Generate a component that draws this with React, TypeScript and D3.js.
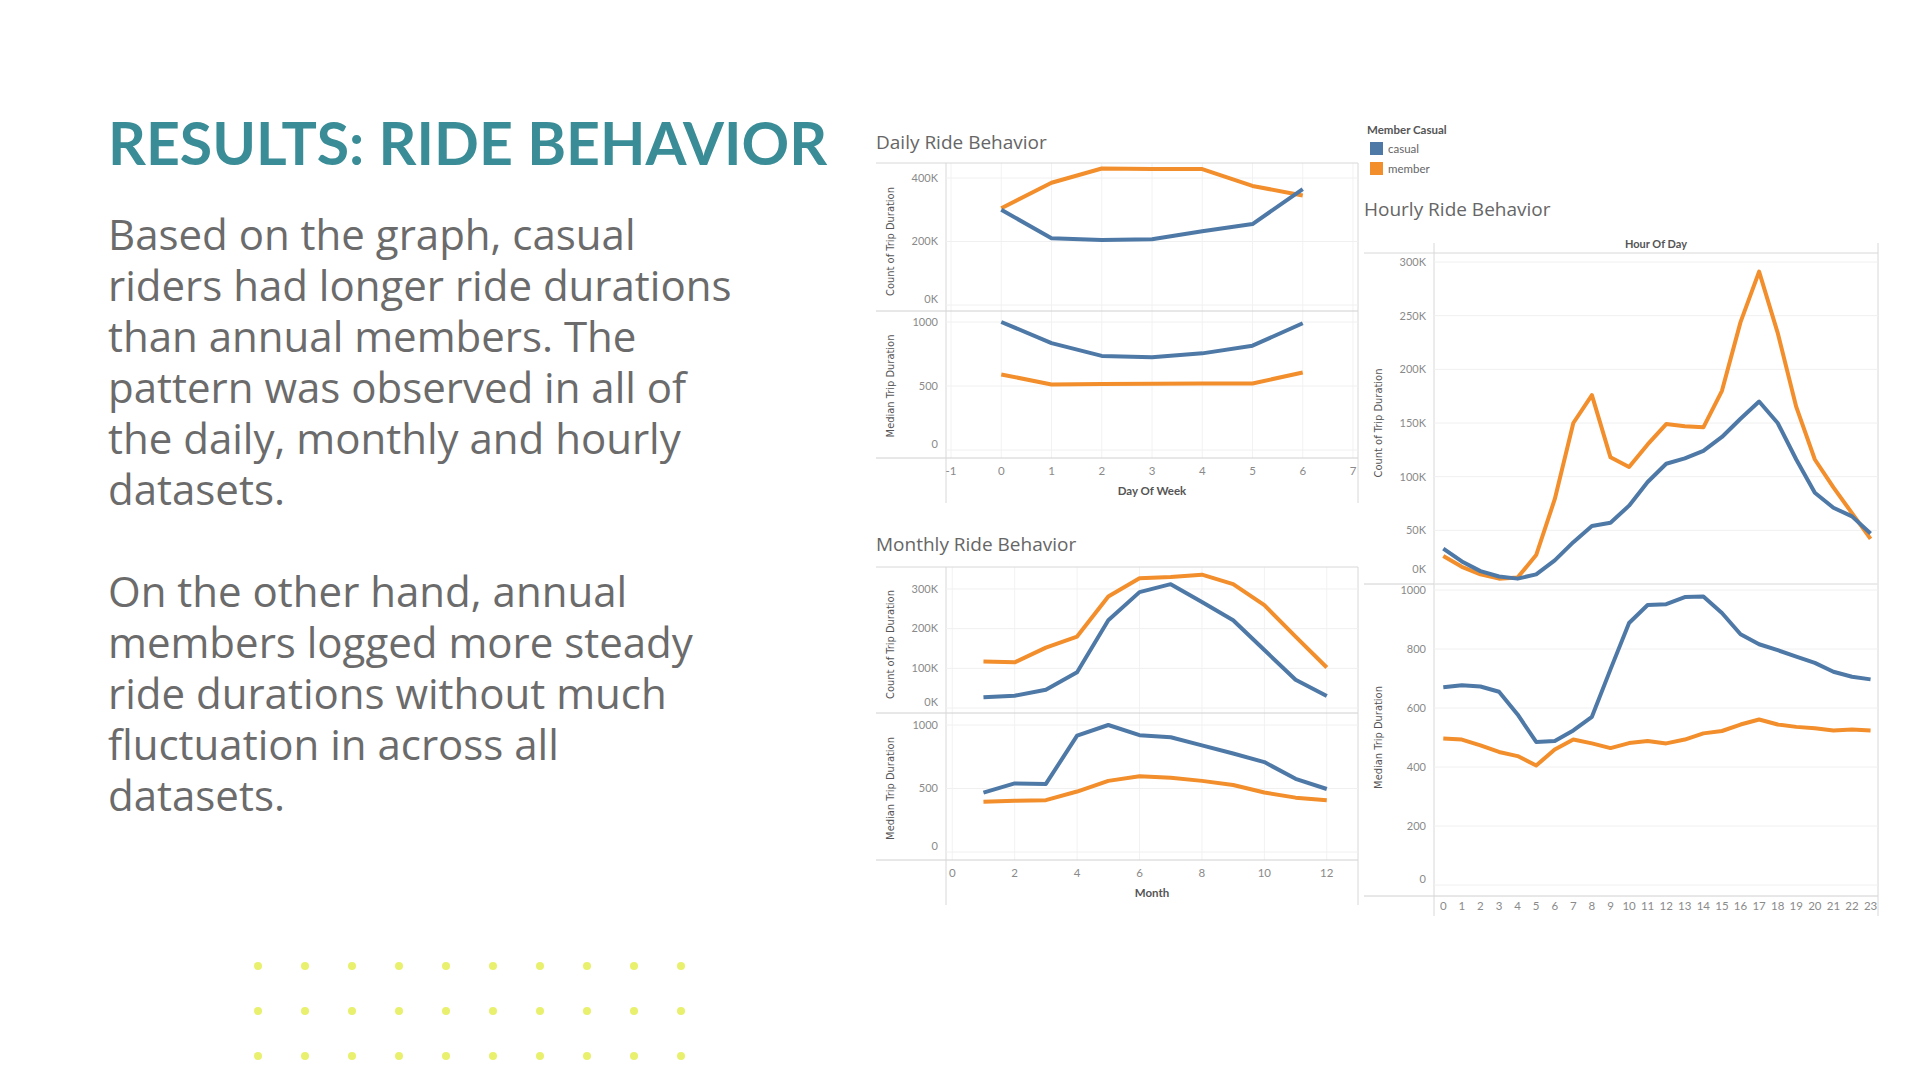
import React from 'react';
import * as d3 from 'd3';

const CASUAL = '#4e79a7';
const MEMBER = '#f28e2b';

// Daily (day of week 0-6)
const days = [0, 1, 2, 3, 4, 5, 6];
const dailyCountCasual = [300, 210, 205, 207, 232, 255, 365];
const dailyCountMember = [305, 385, 430, 428, 428, 375, 345];
const dailyMedianCasual = [1000, 835, 735, 725, 755, 815, 990];
const dailyMedianMember = [590, 512, 515, 518, 520, 520, 605];

// Monthly (1-12)
const months = [1, 2, 3, 4, 5, 6, 7, 8, 9, 10, 11, 12];
const monthlyCountCasual = [27, 31, 46, 90, 221, 292, 312, 267, 221, 146, 71, 30];
const monthlyCountMember = [117, 115, 152, 180, 281, 327, 330, 336, 312, 259, 180, 102];
const monthlyMedianCasual = [468, 540, 536, 916, 1000, 920, 904, 840, 776, 708, 576, 496];
const monthlyMedianMember = [396, 404, 408, 476, 560, 596, 584, 560, 528, 468, 428, 408];

// Hourly (0-23)
const hours = d3.range(24);
const hourlyCountCasual = [33, 21, 12, 7, 5, 9, 22, 39, 54, 57, 73, 95, 112, 117, 124, 137, 154, 170, 150, 116, 85, 71, 63, 47];
const hourlyCountMember = [26, 16, 9, 5, 6, 27, 79, 150, 176, 118, 109, 130, 149, 147, 146, 180, 244, 291, 234, 165, 116, 90, 66, 42];
const hourlyMedianCasual = [670, 677, 673, 655, 578, 485, 488, 524, 570, 731, 888, 949, 952, 976, 978, 922, 850, 816, 796, 774, 753, 723, 706, 697];
const hourlyMedianMember = [497, 493, 473, 451, 437, 405, 459, 493, 480, 464, 481, 488, 480, 493, 514, 522, 544, 561, 544, 536, 531, 524, 527, 524];

const para1 = ['Based on the graph, casual', 'riders had longer ride durations', 'than annual members. The', 'pattern was observed in all of', 'the daily, monthly and hourly', 'datasets.'];
const para2 = ['On the other hand, annual', 'members logged more steady', 'ride durations without much', 'fluctuation in across all', 'datasets.'];

const FONT = 'Lato, "Open Sans", sans-serif';
const TICK = '#8a8a8a';

type PaneDef = {
  y0: number; y1: number;
  domain: [number, number];
  ticks: number[];
  fmt: (v: number) => string;
  title: string;
  casual: number[];
  member: number[];
  zeroLift?: number;
};

function Pane({ p, x, xs, left, right, titleX }: { p: PaneDef; x: d3.ScaleLinear<number, number>; xs: number[]; left: number; right: number; titleX: number }) {
  const y = d3.scaleLinear().domain(p.domain).range([p.y1, p.y0]);
  const line = (vals: number[]) =>
    d3.line<number>().x((_, i) => x(xs[i])).y(d => y(d))(vals) || '';
  return (
    <g>
      {p.ticks.map(t => (
        <g key={t}>
          <line x1={left} x2={right} y1={y(t)} y2={y(t)} stroke="#f0f0f0" />
          <text x={left - 8} y={Math.min(y(t), p.y1 - (p.zeroLift ?? 6))} dy="0.35em" textAnchor="end" fontSize={11} fill={TICK} fontFamily={FONT}>{p.fmt(t)}</text>
        </g>
      ))}
      <text transform={`translate(${titleX},${(p.y0 + p.y1) / 2}) rotate(-90)`} textAnchor="middle" fontSize={11} fill="#555" fontFamily='"Liberation Sans Narrow", "DejaVu Sans Condensed", sans-serif'>{p.title}</text>
      <path d={line(p.member)} fill="none" stroke={MEMBER} strokeWidth={4} strokeLinejoin="round" />
      <path d={line(p.casual)} fill="none" stroke={CASUAL} strokeWidth={4} strokeLinejoin="round" />
    </g>
  );
}

function Chart({ title, titleY, top, mid, bottom, left, right, xDomain, xTicks, xs, xLabel, header, panes, gridX, tail = 45, tickGap = 17 }: any) {
  const x = d3.scaleLinear().domain(xDomain).range([left, right]);
  return (
    <g>
      <text x={left - 70} y={titleY} fontSize={19} fill="#666" fontFamily='"Open Sans", sans-serif'>{title}</text>
      {gridX && xTicks.map((t: number) => (
        <line key={t} x1={x(t)} x2={x(t)} y1={top} y2={bottom} stroke="#f2f2f2" />
      ))}
      <line x1={left - 70} x2={right} y1={top} y2={top} stroke="#d8d8d8" />
      <line x1={left - 70} x2={right} y1={mid} y2={mid} stroke="#d0d0d0" />
      <line x1={left - 70} x2={right} y1={bottom} y2={bottom} stroke="#d0d0d0" />
      <line x1={left} x2={left} y1={top - (header ? 10 : 0)} y2={bottom + tail} stroke="#d8d8d8" />
      <line x1={right} x2={right} y1={top - (header ? 10 : 0)} y2={bottom + tail} stroke="#d8d8d8" />
      {header && <text x={(left + right) / 2} y={top - 5} textAnchor="middle" fontSize={11} fontWeight="bold" fill="#555" fontFamily={FONT}>{header}</text>}
      {panes.map((p: PaneDef, i: number) => (
        <Pane key={i} p={p} x={x} xs={xs} left={left} right={right} titleX={left - 52} />
      ))}
      {xTicks.map((t: number) => (
        <text key={t} x={x(t)} y={bottom + tickGap} textAnchor="middle" fontSize={11.5} fill={TICK} fontFamily={FONT}>{t}</text>
      ))}
      {xLabel && <text x={(left + right) / 2} y={bottom + 37} textAnchor="middle" fontSize={11.5} fontWeight="bold" fill="#555" fontFamily={FONT}>{xLabel}</text>}
    </g>
  );
}

const fmtK = (v: number) => `${v}K`;
const fmtN = (v: number) => `${v}`;

export default function App() {
  const dotsX = d3.range(10);
  const dotsY = d3.range(3);
  const bodyFont = '"Open Sans", sans-serif';
  return (
    <svg width={1920} height={1080} style={{ display: 'block', position: 'absolute', left: 0, top: 0, background: '#fff' }}>
      <text x={108} y={165} fontSize={59} fontWeight="bold" fill="#3a8d96" fontFamily={FONT}>RESULTS: RIDE BEHAVIOR</text>
      {para1.map((l, i) => (
        <text key={l} x={108} y={250 + i * 51} fontSize={42} fill="#6b6b6b" fontFamily={bodyFont}>{l}</text>
      ))}
      {para2.map((l, i) => (
        <text key={l} x={108} y={607 + i * 51} fontSize={42} fill="#6b6b6b" fontFamily={bodyFont}>{l}</text>
      ))}
      {dotsY.map(r => dotsX.map(c => (
        <circle key={`${r}-${c}`} cx={258 + c * 47} cy={966 + r * 45} r={4} fill="#e8f06e" />
      )))}

      <Chart title="Daily Ride Behavior" titleY={149} top={163} mid={311} bottom={458}
        left={946} right={1358} xDomain={[-1.1, 7.1]} xTicks={[-1, 0, 1, 2, 3, 4, 5, 6, 7]} xs={days}
        xLabel="Day Of Week" gridX
        panes={[
          { y0: 178, y1: 305, domain: [0, 400], ticks: [0, 200, 400], fmt: fmtK, title: 'Count of Trip Duration', casual: dailyCountCasual, member: dailyCountMember },
          { y0: 322, y1: 450, domain: [0, 1000], ticks: [0, 500, 1000], fmt: fmtN, title: 'Median Trip Duration', casual: dailyMedianCasual, member: dailyMedianMember },
        ]} />
      <Chart title="Monthly Ride Behavior" titleY={551} top={567} mid={713} bottom={860}
        left={946} right={1358} xDomain={[-0.2, 13]} xTicks={[0, 2, 4, 6, 8, 10, 12]} xs={months}
        xLabel="Month" gridX
        panes={[
          { y0: 581, y1: 708, domain: [0, 320], ticks: [0, 100, 200, 300], fmt: fmtK, title: 'Count of Trip Duration', casual: monthlyCountCasual, member: monthlyCountMember },
          { y0: 725, y1: 852, domain: [0, 1000], ticks: [0, 500, 1000], fmt: fmtN, title: 'Median Trip Duration', casual: monthlyMedianCasual, member: monthlyMedianMember },
        ]} />

      <g fontFamily={FONT}>
        <text x={1367} y={134} fontSize={11.5} fontWeight="bold" fill="#555">Member Casual</text>
        <rect x={1370} y={142} width={13} height={13} fill={CASUAL} />
        <text x={1388} y={153} fontSize={11.5} fill="#666">casual</text>
        <rect x={1370} y={162} width={13} height={13} fill={MEMBER} />
        <text x={1388} y={173} fontSize={11.5} fill="#666">member</text>
      </g>
      <Chart title="Hourly Ride Behavior" titleY={216} top={253} mid={584} bottom={896}
        left={1434} right={1878} xDomain={[-0.5, 23.4]} xTicks={hours} xs={hours}
        header="Hour Of Day" tail={20} tickGap={14}
        panes={[
          { y0: 262, y1: 584, domain: [0, 300], ticks: [0, 50, 100, 150, 200, 250, 300], fmt: fmtK, title: 'Count of Trip Duration', casual: hourlyCountCasual, member: hourlyCountMember, zeroLift: 15 },
          { y0: 590, y1: 885, domain: [0, 1000], ticks: [0, 200, 400, 600, 800, 1000], fmt: fmtN, title: 'Median Trip Duration', casual: hourlyMedianCasual, member: hourlyMedianMember },
        ]} />
    </svg>
  );
}
